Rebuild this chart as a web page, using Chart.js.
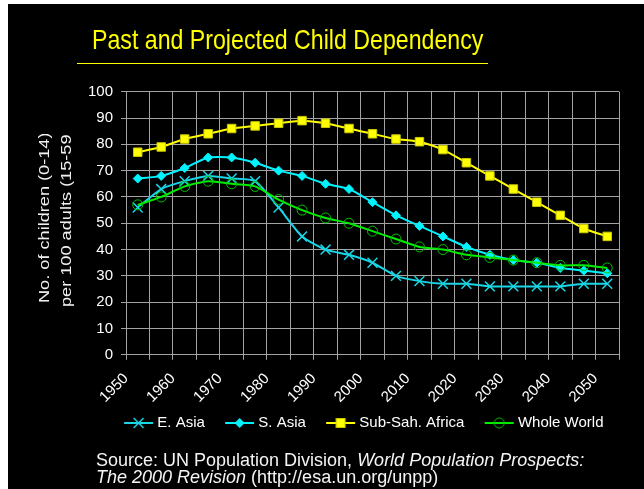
<!DOCTYPE html>
<html>
<head>
<meta charset="utf-8">
<script src="https://cdn.jsdelivr.net/npm/chart.js@4/dist/chart.umd.min.js"></script>
<style>
  html, body { margin: 0; padding: 0; width: 644px; height: 489px; overflow: hidden; background: #fff; }
  #stage { position: absolute; left: 8px; top: 4px; width: 636px; height: 485px; background: #000; }
  #chart { position: absolute; left: 0; top: 0; }
  .title {
    position: absolute; left: 92px; top: 25.6px; white-space: nowrap;
    font: 28px 'Liberation Sans', Arial, sans-serif; line-height: 28px; color: #ffff00;
    transform: scaleX(0.827); transform-origin: 0 0;
  }
  .rule { position: absolute; left: 77px; top: 62.5px; width: 411px; height: 1.5px; background: #ffff00; }
  .ytitle-clip { position: absolute; left: 8px; top: 134px; width: 75px; height: 250px; overflow: hidden; }
  .ytitle-line {
    position: absolute; white-space: nowrap; color: #f0f0f0;
    font: 15px 'Liberation Sans', Arial, sans-serif; line-height: 18px;
    transform-origin: 0 0; transform: rotate(-90deg) scaleX(1.21);
  }
  .source {
    position: absolute; left: 96px; top: 451.7px; white-space: nowrap; color: #f4f4f4;
    font: 18px 'Liberation Sans', Arial, sans-serif; line-height: 17.5px;
  }
</style>
</head>
<body>
<div id="stage"><canvas id="chart" width="636" height="485"></canvas></div>
<div class="title">Past and Projected Child Dependency</div>
<div class="rule"></div>
<div class="ytitle-clip">
  <div class="ytitle-line" style="left:27px; top:169px;">No. of children (0-14)</div>
  <div class="ytitle-line" style="left:49px; top:173px;">per 100 adults (15-59</div>
</div>
<div class="source">Source: UN Population Division, <i>World Population Prospects:</i><br><i>The 2000 Revision</i> (http://esa.un.org/unpp)</div>

<script>
// Mid-points of the five-year periods 1950-55 ... 2050-55
const midYears = [1952.5, 1957.5, 1962.5, 1967.5, 1972.5, 1977.5, 1982.5, 1987.5, 1992.5, 1997.5,
                  2002.5, 2007.5, 2012.5, 2017.5, 2022.5, 2027.5, 2032.5, 2037.5, 2042.5, 2047.5, 2052.5];

// Children (0-14) per 100 adults (15-59)
const eastAsia         = [56, 63, 66, 68, 67, 66, 56, 45, 40, 38, 35, 30, 28, 27, 27, 26, 26, 26, 26, 27, 27];
const southAsia        = [67, 68, 71, 75, 75, 73, 70, 68, 65, 63, 58, 53, 49, 45, 41, 38, 36, 35, 33, 32, 31];
const subSaharanAfrica = [77, 79, 82, 84, 86, 87, 88, 89, 88, 86, 84, 82, 81, 78, 73, 68, 63, 58, 53, 48, 45];
const wholeWorld       = [57, 60, 64, 66, 65, 64, 59, 55, 52, 50, 47, 44, 41, 40, 38, 37, 36, 35, 34, 34, 33];

const seriesNames = ['E. Asia', 'S. Asia', 'Sub-Sah. Africa', 'Whole World'];
const yearLabelStep = 10;

const FONT = "'Liberation Sans', Arial, sans-serif";
const GRID = '#a3a3a3';
const CYAN_E = '#19d6e6';
const CYAN_S = '#00f4ff';
const YELLOW = '#ffff00';
const GREEN = '#00ee00';

// Legend swatches: a short line with the series marker in the middle.
// The swatch sits at the right of a wider transparent image so that the
// gap before the label stays small while items keep their spacing.
const ICON_W = 46, ICON_H = 16, SWATCH_X = 16, SWATCH_W = 29;
function legendIcon(color, drawMarker) {
  const c = document.createElement('canvas');
  c.width = ICON_W; c.height = ICON_H;
  const g = c.getContext('2d');
  g.strokeStyle = color; g.lineWidth = 2;
  g.beginPath(); g.moveTo(SWATCH_X, 8); g.lineTo(SWATCH_X + SWATCH_W, 8); g.stroke();
  drawMarker(g, SWATCH_X + SWATCH_W / 2, 8);
  return c;
}
const icons = [
  legendIcon(CYAN_E, (g, x, y) => {
    const d = 4.95; g.lineWidth = 1.5; g.beginPath();
    g.moveTo(x - d, y - d); g.lineTo(x + d, y + d);
    g.moveTo(x + d, y - d); g.lineTo(x - d, y + d); g.stroke();
  }),
  legendIcon(CYAN_S, (g, x, y) => {
    const r = 5; g.fillStyle = CYAN_S; g.beginPath();
    g.moveTo(x - r, y); g.lineTo(x, y - r); g.lineTo(x + r, y); g.lineTo(x, y + r); g.closePath(); g.fill();
  }),
  legendIcon(YELLOW, (g, x, y) => {
    g.fillStyle = YELLOW; g.fillRect(x - 4.5, y - 4.5, 9, 9);
    g.strokeStyle = '#c8c800'; g.lineWidth = 1; g.strokeRect(x - 4.5, y - 4.5, 9, 9);
  }),
  legendIcon(GREEN, (g, x, y) => {
    g.strokeStyle = '#00c000'; g.lineWidth = 1; g.beginPath(); g.arc(x, y, 5, 0, Math.PI * 2); g.stroke();
  })
];

const ctx = document.getElementById('chart').getContext('2d');
new Chart(ctx, {
  type: 'line',
  data: {
    labels: midYears,
    datasets: [
      { label: seriesNames[0], data: eastAsia, order: 3, borderColor: CYAN_E, borderWidth: 2,
        pointStyle: 'crossRot', pointRadius: 7, pointBorderWidth: 1.5, pointBorderColor: CYAN_E,
        pointBackgroundColor: CYAN_E },
      { label: seriesNames[1], data: southAsia, order: 2, borderColor: CYAN_S, borderWidth: 2,
        pointStyle: 'rectRot', pointRadius: 4.5, pointBorderWidth: 1, pointBorderColor: CYAN_S,
        pointBackgroundColor: CYAN_S },
      { label: seriesNames[2], data: subSaharanAfrica, order: 1, borderColor: YELLOW, borderWidth: 2,
        pointStyle: 'rect', pointRadius: 6, pointBorderWidth: 1, pointBorderColor: '#c8c800',
        pointBackgroundColor: YELLOW },
      { label: seriesNames[3], data: wholeWorld, order: 0, borderColor: GREEN, borderWidth: 2,
        pointStyle: 'circle', pointRadius: 5, pointBorderWidth: 1, pointBorderColor: '#00c000',
        pointBackgroundColor: 'rgba(0,0,0,0)' }
    ]
  },
  options: {
    responsive: false,
    animation: false,
    events: [],
    elements: { line: { tension: 0.2, fill: false } },
    layout: { padding: { left: 63.8, right: 0, top: 87.7, bottom: 48.5 } },
    scales: {
      x: {
        type: 'linear', min: 1950, max: 2055,
        afterFit: s => { s.height = 52.2; s.paddingRight = 25; },
        ticks: {
          stepSize: 5, autoSkip: false, minRotation: 45, maxRotation: 45, padding: 10,
          color: '#ffffff', font: { family: FONT, size: 15 },
          callback: v => (v % yearLabelStep === 0 ? String(v) : '')
        },
        grid: { color: GRID, lineWidth: 1, tickLength: 5, tickColor: GRID },
        border: { color: GRID, width: 1 }
      },
      y: {
        min: 0, max: 100,
        afterFit: s => { s.width = 54.2; },
        ticks: { stepSize: 10, padding: 8, color: '#ffffff', font: { family: FONT, size: 15 } },
        grid: { color: GRID, lineWidth: 1, tickLength: 5, tickColor: GRID },
        border: { color: GRID, width: 1 }
      }
    },
    plugins: {
      tooltip: { enabled: false },
      title: { display: false },
      legend: {
        position: 'bottom',
        labels: {
          usePointStyle: true, pointStyleWidth: 37.5, padding: 8.5,
          color: '#ffffff', font: { family: FONT, size: 15 },
          generateLabels(chart) {
            const items = Chart.defaults.plugins.legend.labels.generateLabels(chart);
            items.sort((a, b) => a.datasetIndex - b.datasetIndex);
            items.forEach(it => { it.pointStyle = icons[it.datasetIndex]; it.fontColor = '#ffffff'; });
            return items;
          }
        }
      }
    }
  }
});
</script>
</body>
</html>
